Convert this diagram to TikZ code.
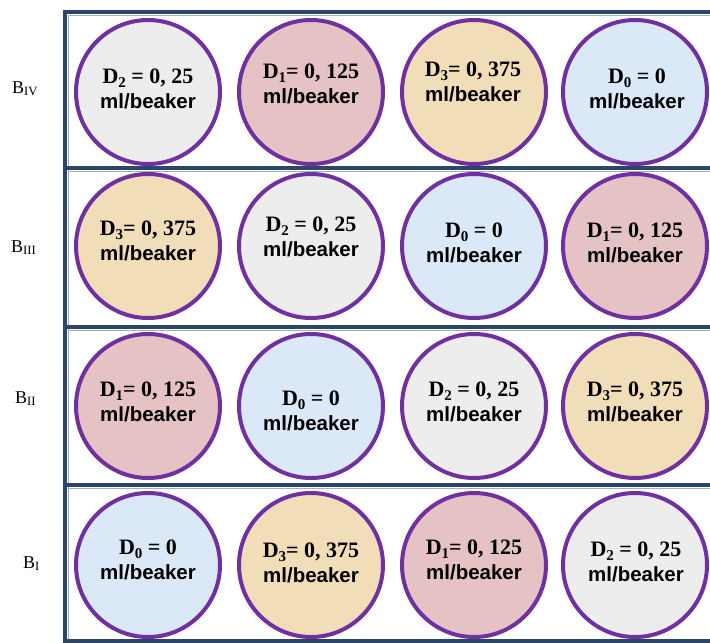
\documentclass[tikz,border=0pt]{standalone}
\usepackage{fontspec}
\setmainfont{Liberation Serif}
\setsansfont{Liberation Sans}
\definecolor{frameblue}{HTML}{2C4668}
\definecolor{frameedge}{HTML}{9FB0C4}
\definecolor{ringpurple}{HTML}{7030A0}
\definecolor{cgray}{HTML}{EDEDED}
\definecolor{cpink}{HTML}{E5C2C4}
\definecolor{ctan}{HTML}{F1DEB8}
\definecolor{cblue}{HTML}{DAE8F8}
\tikzset{
  beaker/.style={circle, draw=ringpurple, line width=4pt, minimum size=144pt, inner sep=0pt},
  dose/.style={align=center, font=\bfseries\fontsize{22}{25}\selectfont, inner sep=0pt},
  framerule/.style={draw=frameblue, line width=4.5pt},
  edgerule/.style={draw=frameedge, line width=1pt},
  blabel/.style={anchor=base west, font=\fontsize{18}{20}\selectfont, inner sep=0pt}
}
\newcommand{\sbd}[1]{\raisebox{-3.5pt}{\fontsize{15}{15}\selectfont #1}}
\newcommand{\mlb}{{\sffamily\fontsize{20.5}{25}\selectfont ml/beaker}}
\newcommand{\dtwo}{D\sbd{2} = 0, 25\\\mlb}
\newcommand{\done}{D\sbd{1}= 0, 125\\\mlb}
\newcommand{\dthree}{D\sbd{3}= 0, 375\\\mlb}
\newcommand{\dzero}{D\sbd{0} = 0\\\mlb}
\begin{document}
\begin{tikzpicture}[x=1pt,y=-1pt]
\useasboundingbox (0,0) rectangle (710,643);
% frame
\coordinate (tl) at (65,12);
\coordinate (tr) at (710,12);
\coordinate (bl) at (65,641);
\coordinate (br) at (710,641);
\coordinate (s1l) at (65,168); \coordinate (s1r) at (710,168);
\coordinate (s2l) at (65,327); \coordinate (s2r) at (710,327);
\coordinate (s3l) at (65,485); \coordinate (s3r) at (710,485);
\coordinate (etl) at (68,15.2); \coordinate (etr) at (710,15.2);
\coordinate (e1l) at (68,171.2); \coordinate (e1r) at (710,171.2);
\coordinate (e2l) at (68,330.2); \coordinate (e2r) at (710,330.2);
\coordinate (e3l) at (68,488.2); \coordinate (e3r) at (710,488.2);
\coordinate (evt) at (68.2,15); \coordinate (evb) at (68.2,639);
\draw[edgerule] (etl) -- (etr);
\draw[edgerule] (e1l) -- (e1r);
\draw[edgerule] (e2l) -- (e2r);
\draw[edgerule] (e3l) -- (e3r);
\draw[edgerule] (evt) -- (evb);
\draw[framerule] (tr) -- (tl) -- (bl) -- (br);
\draw[framerule] (s1l) -- (s1r);
\draw[framerule] (s2l) -- (s2r);
\draw[framerule] (s3l) -- (s3r);
% row labels
\node[blabel] (lbIV) at (12,93) {B\textsubscript{IV}};
\node[blabel] (lbIII) at (11,252) {B\textsubscript{III}};
\node[blabel] (lbII) at (15,403) {B\textsubscript{II}};
\node[blabel] (lbI) at (23,568) {B\textsubscript{I}};
% row IV
\node[beaker, fill=cgray] (c11) at (148,92) {};
\node[beaker, fill=cpink] (c12) at (311,92) {};
\node[beaker, fill=ctan]  (c13) at (474,92) {};
\node[beaker, fill=cblue] (c14) at (635,92) {};
\node[dose] (t11) at (148,89) {\dtwo};
\node[dose] (t12) at (311,84) {\done};
\node[dose] (t13) at (473,82) {\dthree};
\node[dose] (t14) at (637,89) {\dzero};
% row III
\node[beaker, fill=ctan]  (c21) at (148,246) {};
\node[beaker, fill=cgray] (c22) at (311,246) {};
\node[beaker, fill=cblue] (c23) at (474,246) {};
\node[beaker, fill=cpink] (c24) at (635,246) {};
\node[dose] (t21) at (148,241) {\dthree};
\node[dose] (t22) at (311,237) {\dtwo};
\node[dose] (t23) at (474,243) {\dzero};
\node[dose] (t24) at (635,243) {\done};
% row II
\node[beaker, fill=cpink] (c31) at (148,406) {};
\node[beaker, fill=cblue] (c32) at (311,406) {};
\node[beaker, fill=cgray] (c33) at (474,406) {};
\node[beaker, fill=ctan]  (c34) at (635,406) {};
\node[dose] (t31) at (148,402) {\done};
\node[dose] (t32) at (311,411) {\dzero};
\node[dose] (t33) at (474,402) {\dtwo};
\node[dose] (t34) at (635,402) {\dthree};
% row I
\node[beaker, fill=cblue] (c41) at (148,565) {};
\node[beaker, fill=ctan]  (c42) at (311,565) {};
\node[beaker, fill=cpink] (c43) at (474,565) {};
\node[beaker, fill=cgray] (c44) at (635,565) {};
\node[dose] (t41) at (148,560) {\dzero};
\node[dose] (t42) at (311,563) {\dthree};
\node[dose] (t43) at (474,560) {\done};
\node[dose] (t44) at (636,562) {\dtwo};
\end{tikzpicture}
\end{document}
